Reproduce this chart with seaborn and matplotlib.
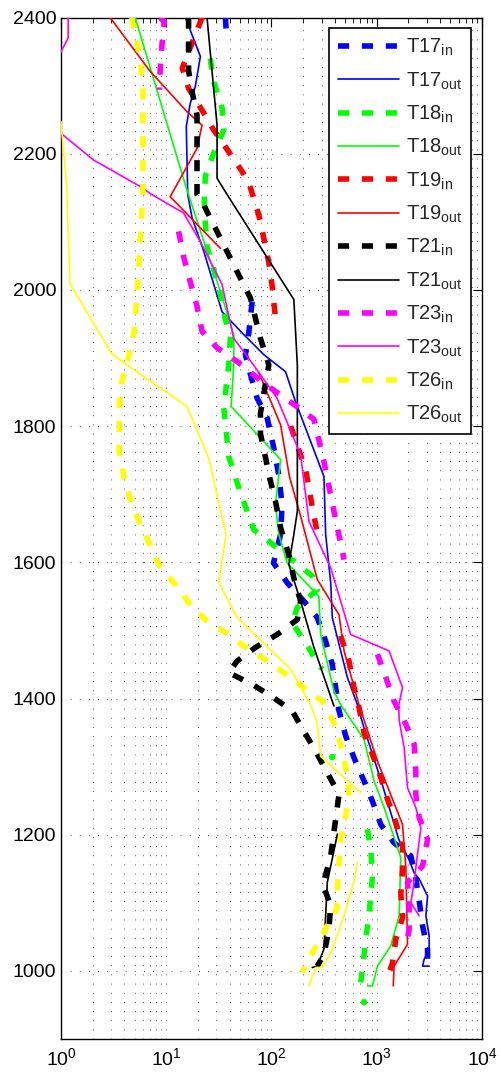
import numpy as np
import pandas as pd
import matplotlib
matplotlib.use('Agg')
import matplotlib.pyplot as plt
import seaborn as sns
from matplotlib.lines import Line2D
from matplotlib.ticker import FixedLocator, NullLocator, LogLocator

nan = np.nan

# value (log x) against altitude (y); nan = break in the record
t17_in_x = [36.5, 37, nan, 65.5, 60.8, 56.5, 63.1, 73.1, 91, 105, 117, 126, 122, 104.5, 141, 203, 272, 327,
            378, 407, 438, 507, 608, 757, 910, 1092, 1461, 2108, 2350, 2530, 2724, 3040, 3040]
t17_in_y = [2400, 2384, nan, 1983, 1937, 1905, 1876, 1841, 1812, 1768, 1729, 1685, 1641, 1599, 1570, 1543, 1519, 1484,
            1450, 1416, 1382, 1345, 1313, 1279, 1249, 1215, 1188, 1169, 1135, 1103, 1066, 1032, 1012]
t17_out_x = [15.2, 21.1, 18.9, 16.9, 15.5, 16, 17.6, 22.7, 33.9, 52.6, 84.5, 136, 169, 315, 327, 365, 378, 526,
             655, 752, 1092, 1620, 2018, 2265, 2530, 3040, 2930, 3150, 3150, 2820, 2724, 3150]
t17_out_y = [2400, 2343, 2299, 2274, 2240, 2140, 2106, 2057, 1968, 1937, 1905, 1880, 1836, 1726, 1641, 1570, 1519, 1431,
             1391, 1358, 1281, 1193, 1164, 1144, 1135, 1110, 1081, 1051, 1032, 1017, 1007, 1007]

t18_in_x = [26.2, 28.2, 33.9, 35.2, 28.2, 23.5, 23, 23.5, 24.4, 32.7, 36.5, 40.7, 39.2, 35.2, 39.2, 47.1, 56.5,
            67.8, 97.8, 244, 272, 176, 157, 211, 272, 304, nan, 815, 877, 910, 845, 785, 731, 704]
t18_in_y = [2340, 2306, 2267, 2235, 2201, 2167, 2132, 2098, 2064, 1995, 1956, 1932, 1890, 1827, 1756, 1717, 1682,
            1648, 1629, 1580, 1560, 1534, 1511, 1482, 1453, 1443, nan, 1208, 1179, 1139, 1081, 1047, 1002, 983]
t18_in_dots_x = [378, 757]
t18_in_dots_y = [1314, 954]
t18_out_x = [5.07, 15.2, 24.4, 32.7, 43.8, 43.8, 41.3, 122, 109, 117.4, 141, 282, 293, 392, 454, 757, 943, 1175,
             1693, 1631, 1360, 1016, 910, 815]
t18_out_y = [2400, 2154, 2057, 1998, 1934, 1890, 1829, 1751, 1685, 1641, 1599, 1550, 1494, 1411, 1391, 1340, 1279, 1240,
             1166, 1081, 1037, 1007, 978, 978]

t19_in_x = [21.9, 20.3, 14.2, 16.3, 22.7, 28.2, 39.2, 52.6, 63.1, 75.7, 84.5, 94.3, 102, 109, nan, 152, 211, 253,
            272, nan, 454, 545, 608, 678, 757, 910, 1092, 1265, 1517, 1757, 1757, 1693, 1757, 1517, 1413, 1219]
t19_in_y = [2400, 2387, 2326, 2296, 2260, 2235, 2203, 2174, 2150, 2110, 2076, 2040, 2003, 1959, nan, 1800, 1736, 1668,
            1644, nan, 1492, 1455, 1416, 1387, 1350, 1318, 1284, 1252, 1218, 1183, 1149, 1113, 1078, 1047, 1012, 983]
t19_out_x = [2.93, 7.04, 15.7, 21.9, 19.6, 10.9, 32.7, nan, 75.2, 91, 122, 148, 189, 272, 438, 489, 678, 1016,
             1757, 1890, 1960, 1461, 1435]
t19_out_y = [2400, 2321, 2262, 2242, 2208, 2137, 2061, nan, 1880, 1849, 1802, 1726, 1668, 1575, 1523, 1470, 1391, 1308,
             1215, 1152, 1039, 1007, 978]

t21_in_x = [16.3, 16.3, 17.6, 19.6, 19.6, 22.7, 31.5, 47.1, 63.1, 78.5, 94.3, 78.5, 78.5, 97.8, 109, 122, 146, 163,
            189, 176, 113, 70.4, 47.1, 39.2, 65.5, 105, 157, 203, 262, 339, 438, 365, 309, 365, 351, 315, 272]
t21_in_y = [2400, 2322, 2291, 2257, 2140, 2125, 2081, 2027, 1988, 1929, 1890, 1819, 1789, 1719, 1690, 1651, 1611, 1577,
            1543, 1516, 1494, 1475, 1455, 1438, 1421, 1401, 1382, 1352, 1323, 1291, 1259, 1169, 1127, 1095, 1061, 1024, 1007]
t21_out_x = [24.4, 30.4, 30.4, 37.9, 163, 176, 176, 163, 146, 189, 253, 392, nan, 423, 339, 315, 272, 244]
t21_out_y = [2400, 2242, 2164, 2140, 1986, 1890, 1675, 1641, 1597, 1543, 1475, 1389, nan, 1201, 1130, 1032, 1007, 1005]

t23_in_x = [8.77, 9.57, 9.1, 8.77, 8.63, nan, 13.1, 14.6, 16.9, 19.6, 21.9, 30.4, 47.1, 73.1, 109, 163, 253, 315,
            392, 489, nan, 1016, 1219, 1461, 1890, 2265, 2350, 2350, 2530, 3040, 2724, 1960, 2032, 2032, 1890]
t23_in_y = [2400, 2394, 2360, 2326, 2294, nan, 2086, 2049, 2012, 1976, 1939, 1915, 1895, 1871, 1851, 1832, 1810, 1748,
            1675, 1604, nan, 1465, 1431, 1396, 1362, 1333, 1293, 1259, 1225, 1193, 1154, 1130, 1095, 1061, 1034]
t23_out_x = [1.17, 1.17, 1.0, 0.6, 1.0, 2.03, 5.65, 7.31, 14.6, 21.1, 33.9, 43.7, 67.4, 113, 189, 227, 365, 565,
             1309, 1757, 1620, 1631, 1820, 1960, 2350, 2625, 2404, 2265, 2108, 2528]
t23_out_y = [2400, 2370, 2350, 2290, 2230, 2191, 2152, 2140, 2113, 2071, 2008, 1929, 1890, 1841, 1758, 1660, 1592, 1494,
             1470, 1416, 1391, 1369, 1328, 1269, 1240, 1210, 1164, 1130, 1100, 1081]

t26_in_x = [4.71, 5.65, 6.0, 6.0, 5.65, 5.33, 4.96, 4.37, 3.79, 3.59, 3.57, 3.96, 4.57, 5.5, 6.84, 8.5, 12.2, 16.3,
            23.5, 36.5, 54.5, 87.7, 131, 203, 304, 392, 454, 507, 545, 507, 454, 437, 423, 417, 235, 196]
t26_in_y = [2400, 2340, 2290, 2140, 2071, 2003, 1939, 1902, 1866, 1832, 1761, 1726, 1692, 1660, 1629, 1597, 1567, 1541,
            1516, 1497, 1477, 1457, 1438, 1416, 1396, 1364, 1333, 1298, 1262, 1227, 1193, 1157, 1122, 1091, 1022, 998]
t26_out_x = [1.0, 1.13, 1.22, 3.04, 4.22, 15.7, 25.3, 29.3, 37, 31.5, 47, 152, 235, 272, 293, 704, nan, 655, 608,
             489, 378, 304, 262, 227]
t26_out_y = [2247, 2154, 2009, 1906, 1890, 1829, 1753, 1709, 1641, 1570, 1519, 1443, 1391, 1364, 1315, 1262, nan, 1159,
             1132, 1081, 1032, 1005, 1005, 978]

series = [
    ('T17', 'in', '#0000ff', t17_in_x, t17_in_y),
    ('T17', 'out', '#0000ff', t17_out_x, t17_out_y),
    ('T18', 'in', '#00ff00', t18_in_x, t18_in_y),
    ('T18', 'out', '#00ff00', t18_out_x, t18_out_y),
    ('T19', 'in', '#ff0000', t19_in_x, t19_in_y),
    ('T19', 'out', '#ff0000', t19_out_x, t19_out_y),
    ('T21', 'in', '#000000', t21_in_x, t21_in_y),
    ('T21', 'out', '#000000', t21_out_x, t21_out_y),
    ('T23', 'in', '#ff00ff', t23_in_x, t23_in_y),
    ('T23', 'out', '#ff00ff', t23_out_x, t23_out_y),
    ('T26', 'in', '#ffff00', t26_in_x, t26_in_y),
    ('T26', 'out', '#ffff00', t26_out_x, t26_out_y),
]

sns.set_style('white')
plt.rcParams['font.family'] = ['Liberation Sans', 'DejaVu Sans']
plt.rcParams['mathtext.fontset'] = 'custom'
plt.rcParams['mathtext.rm'] = 'Liberation Sans'
plt.rcParams['mathtext.it'] = 'Liberation Sans'

DASH = (0, (2.0, 2.3))
styles = {'in': dict(lw=4.0, ls=DASH), 'out': dict(lw=1.2, ls='-')}

fig = plt.figure(figsize=(5.02, 10.75), dpi=100)
ax = fig.add_axes([61 / 502, 36 / 1075, 421 / 502, 1021.4 / 1075])
ax.set_xscale('log')

handles = []
for name, kind, color, xs, ys in series:
    xs = np.asarray(xs, float)
    ys = np.asarray(ys, float)
    df = pd.DataFrame({'value': xs, 'alt': ys, 'seg': np.cumsum(np.isnan(xs))}).dropna()
    st = styles[kind]
    sns.lineplot(data=df, x='value', y='alt', units='seg', estimator=None, sort=False,
                 color=color, linewidth=st['lw'], linestyle=st['ls'], dash_capstyle='butt',
                 legend=False, ax=ax, zorder=3)
    if name == 'T18' and kind == 'in':
        sns.scatterplot(x=t18_in_dots_x, y=t18_in_dots_y, color=color, s=22,
                        edgecolor='none', ax=ax, zorder=3, legend=False)
    handles.append(Line2D([], [], color=color, lw=st['lw'], ls=st['ls'], dash_capstyle='butt',
                          label=f'{name}$_{{\\mathrm{{{kind}}}}}$'))

ax.set_xlim(1, 1e4)
ax.set_ylim(900, 2400)
ax.set_xlabel('')
ax.set_ylabel('')
ax.yaxis.set_major_locator(FixedLocator(np.arange(1000, 2401, 200)))
ax.yaxis.set_minor_locator(NullLocator())
ax.xaxis.set_major_locator(LogLocator(base=10, numticks=10))
ax.xaxis.set_minor_locator(LogLocator(base=10, subs=np.arange(2, 10), numticks=20))

ax.grid(True, which='both', axis='x', color='0.2', lw=0.6, ls=(0, (1, 10)), zorder=0)
ax.grid(True, which='major', axis='y', color='0.2', lw=0.6, ls=(0, (1, 10)), zorder=0)
ax.set_axisbelow(True)

ax.tick_params(which='both', direction='in', top=True, right=True, labelsize=14, colors='black')
ax.tick_params(which='major', length=6.5, width=0.8)
ax.tick_params(which='minor', length=3.5, width=0.6)
ax.tick_params(axis='x', which='major', pad=6)
for sp in ax.spines.values():
    sp.set_color('black')
    sp.set_linewidth(1.0)

leg = ax.legend(handles=handles, loc='upper right', bbox_to_anchor=(0.974, 0.99), borderaxespad=0,
                fontsize=14.5, handlelength=3.05, handletextpad=0.3, labelspacing=0.6,
                borderpad=0.45, fancybox=False, framealpha=1, edgecolor='black')
leg.get_frame().set_linewidth(1.2)

fig.savefig('out.png', dpi=100)
